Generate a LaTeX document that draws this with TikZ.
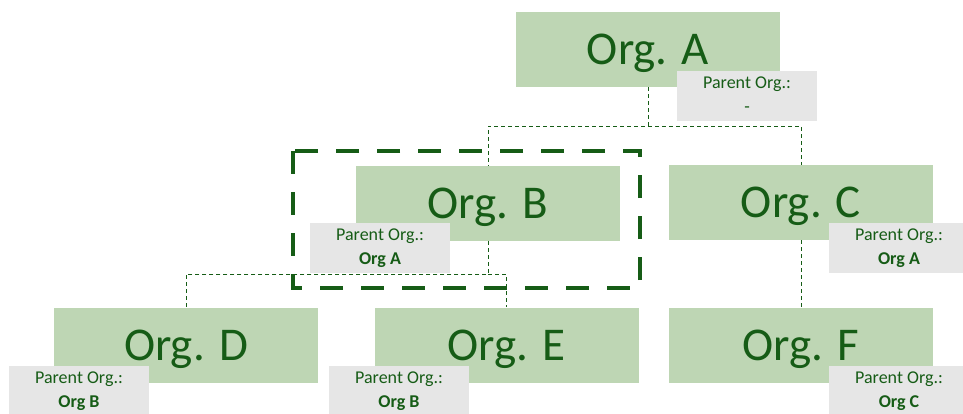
\documentclass[tikz,border=0pt]{standalone}
\usepackage{fontspec}
\setmainfont{Carlito}
\usepackage{xcolor}
\definecolor{orgfill}{RGB}{190,214,180}
\definecolor{darkgreen}{RGB}{22,92,22}
\definecolor{parentfill}{RGB}{230,230,230}

\begin{document}
\begin{tikzpicture}[x=1pt, y=-1pt,
		o/.style = {rectangle, fill=orgfill, text=darkgreen, minimum width=264pt, minimum height=75pt, inner sep=0pt, text depth=0pt, font=\fontsize{47}{56}\selectfont},
		p/.style = {rectangle, fill=parentfill, text=darkgreen, minimum width=140pt, minimum height=50pt, inner sep=0pt, text depth=2pt, align=center, font=\fontsize{18}{24}\selectfont},
		l/.style = {darkgreen, line width=1pt, dash pattern=on 4pt off 3pt},
		f/.style = {darkgreen, line width=4.7pt, dash pattern=on 23pt off 18pt}
		]
		\useasboundingbox (0,0) rectangle (963,413);
		
		%Nodes
		\node[o]	(orgA)	at	(648, 49.5)	{Org. A};
		\node[o]	(orgB)	at	(488, 203.5)	{Org. B};
		\node[o]	(orgC)	at	(801, 202.5)	{Org. C};
		\node[o]	(orgD)	at	(186, 345)	{Org. D};
		\node[o]	(orgE)	at	(506.5, 345)	{Org. E};
		\node[o]	(orgF)	at	(801, 345)	{Org. F};
		\coordinate	(jA)	at	(648, 126);
		\coordinate	(jB)	at	(488, 274.5);
		
		%Lines
		\draw[l]	(orgA.south)	--	(jA)	-|	(orgB.north);
		\draw[l]	(jA)	-|	(orgC.north);
		\draw[l]	(orgB.south)	--	(jB)	-|	(orgD.north);
		\draw[l]	(jB)	-|	(orgE.north);
		\draw[l]	(orgC.south)	--	(orgF.north);
		
		%Parents
		\node[p]	(parA)	at	(747, 95.5)	{Parent Org.:\\-};
		\node[p]	(parB)	at	(380, 248)	{Parent Org.:\\\textbf{Org A}};
		\node[p]	(parC)	at	(899, 248)	{Parent Org.:\\\textbf{Org A}};
		\node[p]	(parD)	at	(79, 391)	{Parent Org.:\\\textbf{Org B}};
		\node[p]	(parE)	at	(399, 391)	{Parent Org.:\\\textbf{Org B}};
		\node[p]	(parF)	at	(899, 391)	{Parent Org.:\\\textbf{Org C}};
		
		%Frame
		\draw[f]	(293, 151)	rectangle	(640, 288);
	\end{tikzpicture}
\end{document}
